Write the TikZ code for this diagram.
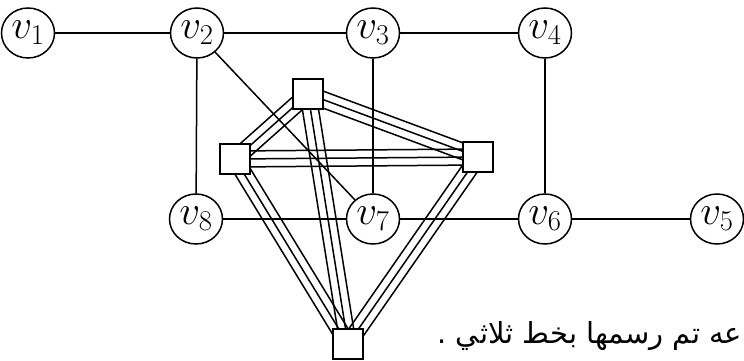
\RequirePackage{fix-cm}
\documentclass[tikz,border=0pt]{standalone}
\usepackage{fontspec}
\usepackage{amsmath}
\usepackage{tikz}
\usetikzlibrary{shapes.geometric,calc,backgrounds}
\newfontfamily\arabicfont[Script=Arabic]{DejaVu Sans}
\TeXXeTstate=1
\tikzset{ln/.style={line width=1.5pt}}
\newcommand{\tripleline}[2]{%
  \draw[ln] ($(#1)!8pt!90:(#2)$) -- ($(#2)!8pt!-90:(#1)$);
  \draw[ln] (#1.center) -- (#2.center);
  \draw[ln] ($(#1)!8pt!-90:(#2)$) -- ($(#2)!8pt!90:(#1)$);}

\begin{document}
\begin{tikzpicture}[x=1pt,y=-1pt,line width=1.5pt,
  vert/.style={draw,ellipse,fill=white,inner sep=0pt,minimum width=53pt,minimum height=50pt,font=\fontsize{41}{44}\selectfont},
  blk/.style={draw,rectangle,fill=white,minimum size=30pt,inner sep=0pt}]
  \useasboundingbox (0,0) rectangle (744,361);
  \node[vert] (v1) at (28,33) {$v_1$};
  \node[vert] (v2) at (197,33) {$v_2$};
  \node[vert] (v3) at (373,33) {$v_3$};
  \node[vert] (v4) at (545,33) {$v_4$};
  \node[vert] (v8) at (196,219) {$v_8$};
  \node[vert] (v7) at (373,219) {$v_7$};
  \node[vert] (v6) at (545,219) {$v_6$};
  \node[vert] (v5) at (717,219) {$v_5$};
  \node[blk] (top) at (308,94) {};
  \node[blk] (left) at (235,159) {};
  \node[blk] (right) at (478,157) {};
  \node[blk] (bot) at (348,344) {};
  \begin{scope}[on background layer]
    \draw[ln] (v1) -- (v2);
    \draw[ln] (v2) -- (v3);
    \draw[ln] (v3) -- (v4);
    \draw[ln] (v2) -- (v8);
    \draw[ln] (v2) -- (v7);
    \draw[ln] (v3) -- (v7);
    \draw[ln] (v4) -- (v6);
    \draw[ln] (v8) -- (v7);
    \draw[ln] (v7) -- (v6);
    \draw[ln] (v6) -- (v5);
    \tripleline{top}{left}
    \tripleline{top}{right}
    \tripleline{top}{bot}
    \tripleline{left}{right}
    \tripleline{left}{bot}
    \tripleline{right}{bot}
  \end{scope}
  \node[anchor=base east,inner sep=0pt,font=\fontsize{29}{32}\selectfont] (note) at (743,343)
    {\arabicfont\beginR عه تم رسمها بخط ثلاثي .\endR};
\end{tikzpicture}
\end{document}
